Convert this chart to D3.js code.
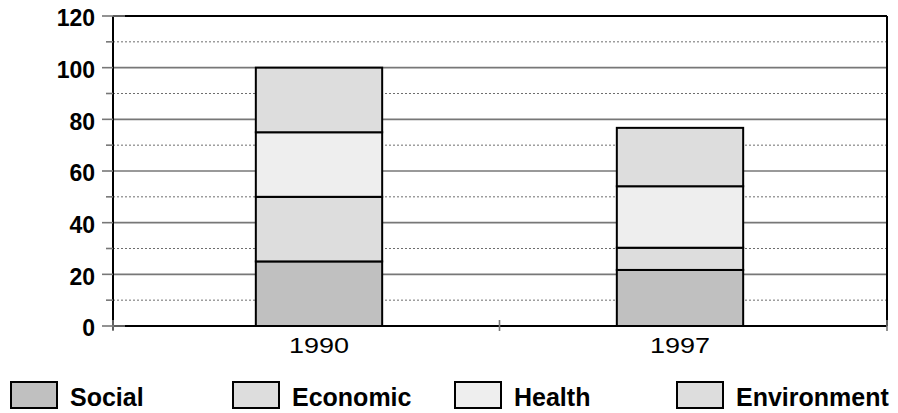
<!DOCTYPE html>
<html>
<head>
<meta charset="utf-8">
<script src="https://cdn.jsdelivr.net/npm/d3@7"></script>
<style>
  html, body { margin: 0; padding: 0; background: #fff; }
  svg { display: block; }
</style>
</head>
<body>
<svg id="chart" width="898" height="413"></svg>
<script>
// ---- data ----
const categories = ["1990", "1997"];
const seriesNames = ["Social", "Economic", "Health", "Environment"];
const social      = [25, 21.7];
const economic    = [25, 8.6];
const health      = [25, 23.8];
const environment = [25, 22.6];
const yTicksMajor = [0, 20, 40, 60, 80, 100, 120];
const yTicksMinor = [10, 30, 50, 70, 90, 110];
const colors = ["#c0c0c0", "#dddddd", "#eeeeee", "#dddddd"];

// ---- layout ----
const plotL = 113, plotR = 887, plotT = 16, plotB = 326;
const FONT = "Liberation Sans, Arial, sans-serif";

const svg = d3.select("#chart");

const rows = categories.map((c, i) => ({
  cat: c, Social: social[i], Economic: economic[i], Health: health[i], Environment: environment[i]
}));
const stacked = d3.stack().keys(seriesNames)(rows);

const y = d3.scaleLinear().domain([0, 120]).range([plotB, plotT]);
const x = d3.scaleBand().domain(categories)
  .range([138.5, 860.5]).paddingInner(0.65).paddingOuter(0.325);

// minor dotted gridlines
svg.append("g").selectAll("line").data(yTicksMinor).join("line")
  .attr("x1", plotL).attr("x2", plotR)
  .attr("y1", d => y(d)).attr("y2", d => y(d))
  .attr("stroke", "#6e6e6e").attr("stroke-width", 1)
  .attr("stroke-dasharray", "2,2");

// major solid gridlines
svg.append("g").selectAll("line").data(yTicksMajor.filter(d => d > 0 && d < 120)).join("line")
  .attr("x1", plotL).attr("x2", plotR)
  .attr("y1", d => y(d)).attr("y2", d => y(d))
  .attr("stroke", "#777").attr("stroke-width", 1.6);

// bars
svg.append("g").selectAll("g").data(stacked).join("g")
  .attr("fill", (d, i) => colors[i])
  .selectAll("rect").data(d => d).join("rect")
  .attr("x", d => x(d.data.cat))
  .attr("width", x.bandwidth())
  .attr("y", d => y(d[1]))
  .attr("height", d => y(d[0]) - y(d[1]))
  .attr("stroke", "#000").attr("stroke-width", 2);

// frame
const frame = svg.append("g").attr("stroke", "#000").attr("stroke-width", 2);
frame.append("line").attr("x1", plotL).attr("x2", plotR).attr("y1", y(120)).attr("y2", y(120));
frame.append("line").attr("x1", plotL).attr("x2", plotR).attr("y1", y(0)).attr("y2", y(0));
frame.append("line").attr("x1", plotL).attr("x2", plotL).attr("y1", y(120)).attr("y2", y(0) + 4);
frame.append("line").attr("x1", plotR).attr("x2", plotR).attr("y1", y(120)).attr("y2", y(0));

// y ticks (gray)
svg.append("g").selectAll("line").data(yTicksMajor).join("line")
  .attr("x1", plotL - 11).attr("x2", d => (d === 0 || d === 120) ? plotL + 12 : plotL)
  .attr("y1", d => y(d)).attr("y2", d => y(d))
  .attr("stroke", "#777").attr("stroke-width", 1.6);
svg.append("g").selectAll("line").data(yTicksMinor).join("line")
  .attr("x1", plotL - 7).attr("x2", plotL)
  .attr("y1", d => y(d)).attr("y2", d => y(d))
  .attr("stroke", "#777").attr("stroke-width", 1.6);

// y labels
svg.append("g").selectAll("text").data(yTicksMajor).join("text")
  .attr("x", 95).attr("y", d => y(d)).attr("dy", "0.45em")
  .attr("text-anchor", "end")
  .attr("font-family", FONT)
  .attr("font-weight", "bold").attr("font-size", 23)
  .attr("fill", "#000")
  .text(d => d);

// x ticks at frame edges and between categories
const mid = (x(categories[0]) + x.bandwidth() + x(categories[1])) / 2;
svg.append("g").selectAll("line").data([plotL, mid, plotR]).join("line")
  .attr("x1", d => d).attr("x2", d => d)
  .attr("y1", y(0) - 6).attr("y2", y(0) + 5)
  .attr("stroke", "#777").attr("stroke-width", 1.6);

// x labels (horizontally widened glyphs)
svg.append("g").selectAll("text").data(categories).join("text")
  .attr("transform", d => `translate(${x(d) + x.bandwidth() / 2},352.5) scale(1.2,1)`)
  .attr("text-anchor", "middle")
  .attr("font-family", FONT)
  .attr("font-size", 22.5)
  .attr("fill", "#000")
  .text(d => d);

// legend
const legX = d3.scalePoint().domain(seriesNames).range([11, 677]);
const leg = svg.append("g").selectAll("g").data(seriesNames).join("g")
  .attr("transform", d => `translate(${legX(d)},382)`);
leg.append("rect")
  .attr("width", 46).attr("height", 26)
  .attr("fill", (d, i) => colors[i])
  .attr("stroke", "#000").attr("stroke-width", 2);
leg.append("text")
  .attr("x", 59).attr("y", 24)
  .attr("font-family", FONT)
  .attr("font-weight", "bold").attr("font-size", 25)
  .attr("fill", "#000")
  .text(d => d);
</script>
</body>
</html>
